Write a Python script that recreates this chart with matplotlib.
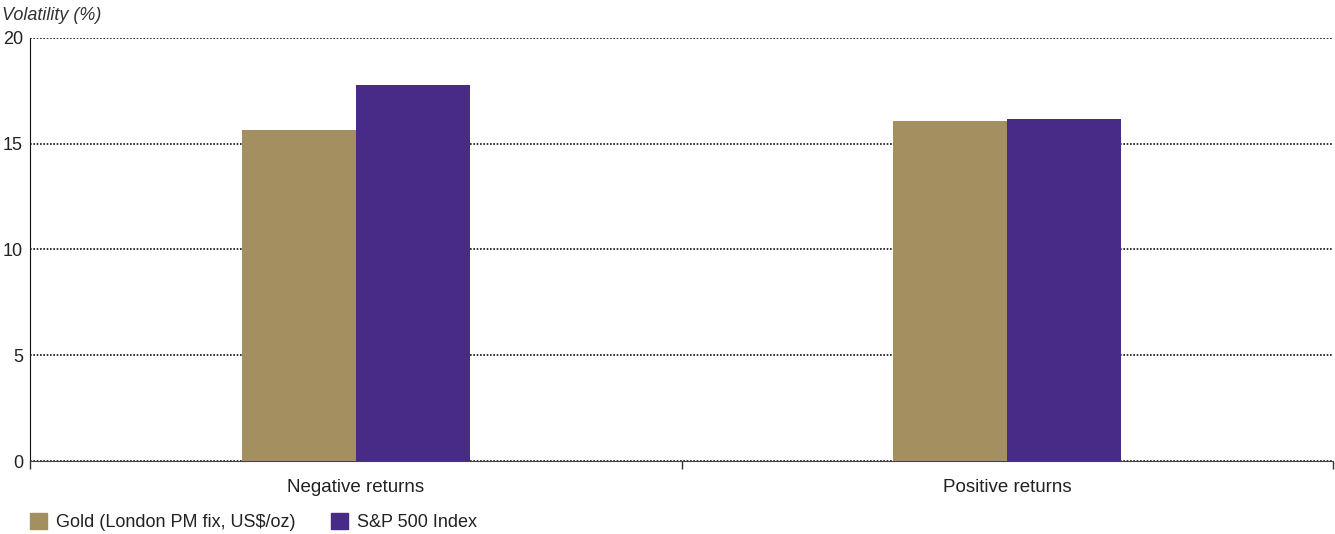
import numpy as np
import matplotlib.pyplot as plt
from matplotlib.patches import Patch

plt.rcParams['font.family'] = ['Liberation Sans', 'DejaVu Sans']

# data
categories = ['Negative returns', 'Positive returns']
series_names = ['Gold (London PM fix, US$/oz)', 'S&P 500 Index']
gold = [15.65, 16.08]
spx = [17.78, 16.17]
colors = ['#a38f60', '#482b87']

fig = plt.figure(figsize=(13.35, 5.34), dpi=100)
ax = fig.add_axes([30 / 1335, 1 - 461 / 534, 1303 / 1335, 423 / 534])

x = np.arange(len(categories))
w = 0.175
ax.bar(x - w / 2, gold, w, color=colors[0], zorder=3)
ax.bar(x + w / 2, spx, w, color=colors[1], zorder=3)

ax.set_xlim(-0.5, 1.5)
ax.set_ylim(0, 20)
ax.set_yticks([0, 5, 10, 15, 20])
ax.yaxis.grid(True, linestyle=(0, (1, 1)), color='#111111', linewidth=1.2, zorder=1)
ax.tick_params(axis='y', length=0, labelsize=13, pad=5, colors='#222222')

# category labels in the middle, tick marks at the boundaries
ax.set_xticks([-0.5, 0.5, 1.5])
ax.set_xticklabels([])
ax.tick_params(axis='x', length=6, width=1, direction='out', color='#333333')
ax.set_xticks(x, minor=True)
ax.set_xticklabels(categories, minor=True)
ax.tick_params(axis='x', which='minor', length=0, labelsize=13.5, pad=13, colors='#222222')

for side in ['top', 'right']:
    ax.spines[side].set_visible(False)
ax.spines['left'].set_color('#111111')
ax.spines['bottom'].set_color('#444444')

fig.text(2 / 1335, 1 - 15 / 534, 'Volatility (%)', fontsize=13, style='italic',
         color='#333333', va='center', ha='left')

handles = [Patch(color=c, label=n) for c, n in zip(colors, series_names)]
fig.legend(handles=handles, loc='center left', bbox_to_anchor=(14 / 1335, 1 - 522 / 534),
           ncol=2, frameon=False, fontsize=13, handlelength=0.95, handleheight=1.0,
           handletextpad=0.5, columnspacing=1.95, labelcolor='#222222')

fig.savefig('out.png', dpi=100)
